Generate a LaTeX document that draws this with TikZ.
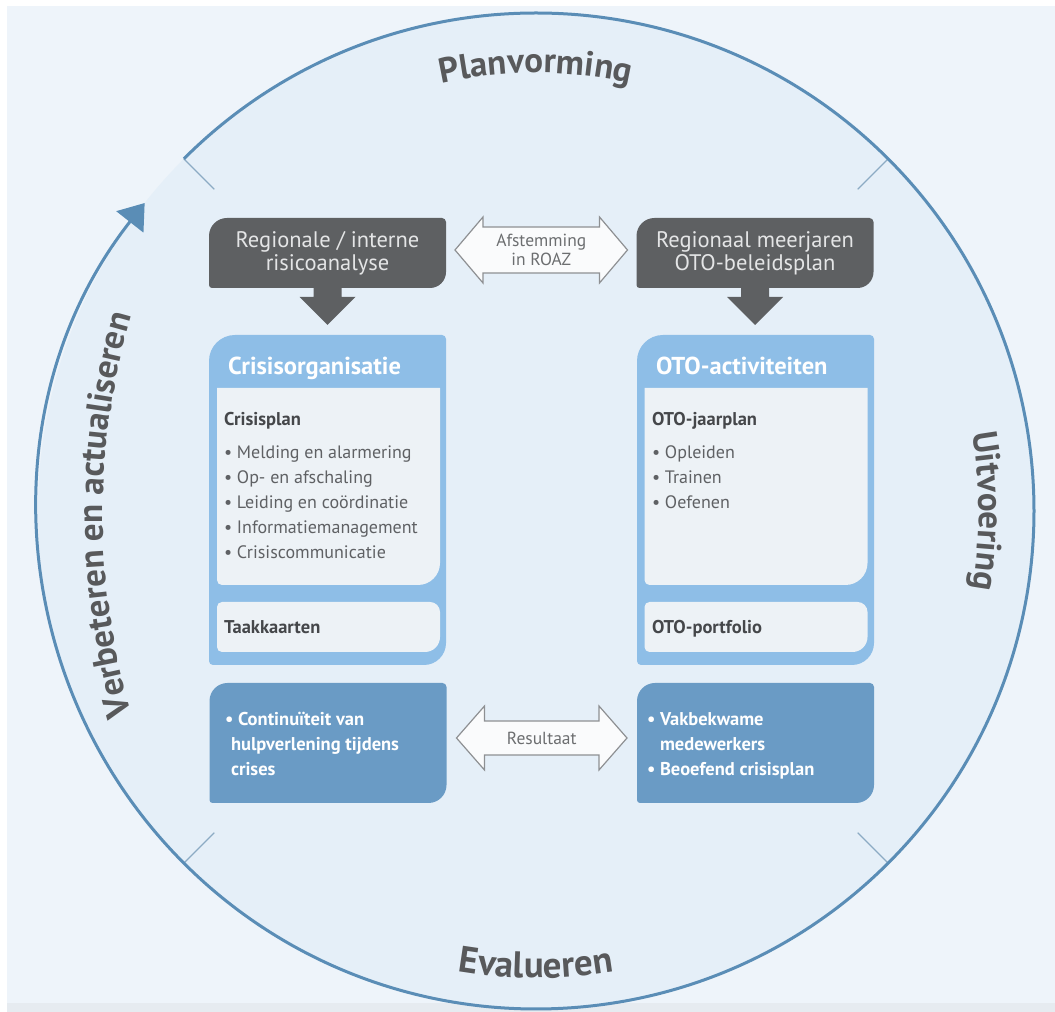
\documentclass[tikz,border=0pt]{standalone}
\usepackage{fontspec}
\setmainfont{PT Sans}
\usetikzlibrary{calc,arrows.meta,decorations.text}

\definecolor{pagebg}{HTML}{EEF4FA}
\definecolor{bandc}{HTML}{E6EBF0}
\definecolor{ringfill}{HTML}{E5EFF8}
\definecolor{ringline}{HTML}{5A8DB6}
\definecolor{tickc}{HTML}{8CABC4}
\definecolor{darkc}{HTML}{5E6062}
\definecolor{darktext}{HTML}{E4E5E6}
\definecolor{panelc}{HTML}{8EBEE7}
\definecolor{innerc}{HTML}{EDF2F6}
\definecolor{resc}{HTML}{6A9BC5}
\definecolor{headc}{HTML}{45474A}
\definecolor{bulletc}{HTML}{5F6164}
\definecolor{arrowline}{HTML}{8E9093}
\definecolor{arrowfill}{HTML}{FAFBFC}
\definecolor{labelc}{HTML}{58595B}
\definecolor{arrowtext}{HTML}{6C6E70}

\pgfdeclarelayer{ground}
\pgfdeclarelayer{panels}
\pgfsetlayers{ground,panels,main}

% box filled behind a node, with its own radius for each corner
% #1 node, #2 top left, #3 top right, #4 bottom right, #5 bottom left, #6 colour
\newcommand{\cornerbox}[6]{%
  \fill[#6] ([yshift=#5]#1.south west) -- ([yshift=-#2]#1.north west)
    arc[start angle=180,end angle=90,radius=#2]
    -- ([xshift=-#3]#1.north east) arc[start angle=90,end angle=0,radius=#3]
    -- ([yshift=#4]#1.south east) arc[start angle=0,end angle=-90,radius=#4]
    -- ([xshift=#5]#1.south west) arc[start angle=270,end angle=180,radius=#5]
    -- cycle;}

% outlined double block arrow between two tips
% #1 left tip, #2 right tip, #3 head length, #4 head half height, #5 shaft half height
\newcommand{\dblarrow}[5]{%
  \draw[blockarrow] (#1) -- ++(#3,#4) -- ++(0,{#5-#4}) -- ($(#2)+(-#3,#5)$)
    -- ++(0,{#4-#5}) -- (#2) -- ++(-#3,-#4) -- ++(0,{#4-#5})
    -- ($(#1)+(#3,-#5)$) -- ++(0,{#5-#4}) -- cycle;}

\newcommand{\ringfont}{\fontsize{35}{37}\selectfont\bfseries}
\newcommand{\ringfontwide}{\fontsize{37}{39}\selectfont\bfseries}

\begin{document}
\begin{tikzpicture}[x=1pt,y=1pt,
  boxbase/.style={inner sep=0pt,outer sep=0pt},
  darkbox/.style={boxbase,minimum width=237pt,minimum height=70pt,align=center,
    text=darktext,font=\fontsize{22.5}{23}\selectfont},
  panelnode/.style={boxbase,minimum width=237pt,minimum height=330pt},
  innernode/.style={boxbase,minimum width=223pt,minimum height=197pt},
  resnode/.style={boxbase,minimum width=237pt,minimum height=120pt},
  paneltitle/.style={boxbase,anchor=base west,text=white,font=\fontsize{24.5}{26}\selectfont\bfseries},
  headtext/.style={boxbase,anchor=base west,text=headc,font=\fontsize{18.5}{20}\selectfont\bfseries},
  bullettext/.style={boxbase,anchor=base west,align=left,text=bulletc,font=\fontsize{18}{25}\selectfont},
  restext/.style={boxbase,anchor=base west,align=left,text=white,font=\fontsize{18.5}{25}\selectfont\bfseries},
  arrowlabel/.style={boxbase,align=center,text=arrowtext,font=\fontsize{17.5}{19}\selectfont},
  blockarrow/.style={draw=arrowline,line width=1.2pt,fill=arrowfill,line join=miter},
  downarrow/.style={fill=darkc},
  ring/.style={draw=ringline,line width=3pt},
  tick/.style={draw=tickc,line width=1.3pt},
  ringlabel/.style={decorate,decoration={text along path,text align=center,text color=labelc}}
]
\useasboundingbox (0,0) rectangle (1055,1012);

\begin{pgfonlayer}{ground}
  \fill[white] (0,0) rectangle (1055,1012);
  \fill[pagebg] (7,9) rectangle (1055,1006);
  \fill[bandc] (7,0) rectangle (1055,9);
  \coordinate (C) at (536,501);
  \fill[ringfill] (C) circle[radius=498];
  % phase boundaries
  \foreach \a in {135,45,-45,-135}
    \draw[tick] ($(C)+(\a:498)$) -- ($(C)+(\a:455)$);
  % the cycle, closing on itself with an arrow
  \draw[ring,-{Triangle[length=24pt,width=34pt]}]
    ($(C)+(135:498)$) arc[start angle=135,end angle=-218.2,radius=498];
  % phase names along the ring
  \path[ringlabel,decoration={text={|\ringfont|Planvorming}}]
    ($(C)+(160:438)$) arc[start angle=160,end angle=20,radius=438];
  \path[ringlabel,decoration={text={|\ringfont|Uitvoering}}]
    ($(C)+(25:443)$) arc[start angle=25,end angle=-25,radius=443];
  \path[ringlabel,decoration={text={|\ringfontwide|Evalueren}}]
    ($(C)+(-118:467)$) arc[start angle=-118,end angle=-62,radius=467];
  % flatter curve for the long label on the left
  \coordinate (L) at (818,497);
  \path[ringlabel,decoration={text={|\ringfont|Verbeteren en actualiseren}}]
    ($(L)+(205:715)$) arc[start angle=205,end angle=155,radius=715];
\end{pgfonlayer}

% top row
\node[darkbox] (risk) at (327.5,759) {Regionale / interne\\risicoanalyse};
\node[darkbox] (plan) at (755,759) {Regionaal meerjaren\\OTO-beleidsplan};

% panels
\node[panelnode] (crisis) at (327.5,512) {};
\node[panelnode] (oto) at (755.5,512) {};
\node[paneltitle] (crisistitle) at (228,637) {Crisisorganisatie};
\node[paneltitle] (ototitle) at (656,637) {OTO-activiteiten};

\node[innernode] (cplan) at (328.5,525.5) {};
\node[innernode,minimum height=50pt] (ctaak) at (328.5,385) {};
\node[innernode] (oplan) at (756,525.5) {};
\node[innernode,minimum height=50pt] (otaak) at (756,385) {};

% multi-line texts are placed by the baseline of their last line
\node[headtext] (cplanhead) at (224,586) {Crisisplan};
\node[bullettext] (cplanlist) at (224,453) {\textbullet\ Melding en alarmering\\
  \textbullet\ Op- en afschaling\\
  \textbullet\ Leiding en coördinatie\\
  \textbullet\ Informatiemanagement\\
  \textbullet\ Crisiscommunicatie};
\node[headtext] (ctaakhead) at (224,378) {Taakkaarten};

\node[headtext] (oplanhead) at (652,586) {OTO-jaarplan};
\node[bullettext] (oplanlist) at (652,503) {\textbullet\ Opleiden\\
  \textbullet\ Trainen\\
  \textbullet\ Oefenen};
\node[headtext] (otaakhead) at (652,378) {OTO-portfolio};

% results
\node[resnode] (cres) at (328,269) {};
\node[resnode] (ores) at (755.5,269) {};
\node[restext] (crestext) at (225,236) {\textbullet\ Continuïteit van\\
  \hspace{6pt}hulpverlening tijdens\\
  \hspace{6pt}crises};
\node[restext] (orestext) at (647,236) {\textbullet\ Vakbekwame\\
  \phantom{\textbullet\ }medewerkers\\
  \textbullet\ Beoefend crisisplan};

\begin{pgfonlayer}{panels}
  \cornerbox{risk}{18pt}{4pt}{16pt}{3pt}{darkc}
  \cornerbox{plan}{18pt}{4pt}{16pt}{3pt}{darkc}
  \cornerbox{crisis}{26pt}{4pt}{22pt}{4pt}{panelc}
  \cornerbox{oto}{26pt}{4pt}{22pt}{4pt}{panelc}
  \cornerbox{cplan}{0.01pt}{0.01pt}{22pt}{5pt}{innerc}
  \cornerbox{oplan}{0.01pt}{0.01pt}{22pt}{5pt}{innerc}
  \cornerbox{ctaak}{5pt}{10pt}{15pt}{5pt}{innerc}
  \cornerbox{otaak}{5pt}{10pt}{15pt}{5pt}{innerc}
  \cornerbox{cres}{18pt}{4pt}{18pt}{3pt}{resc}
  \cornerbox{ores}{18pt}{4pt}{18pt}{3pt}{resc}
\end{pgfonlayer}

% downward arrows into the panels
\fill[downarrow] ([xshift=-14pt]risk.south) -- ++(0,-9) -- ++(-14,0) -- ++(28,-28)
  -- ++(28,28) -- ++(-14,0) -- ++(0,9) -- cycle;
\fill[downarrow] ([xshift=-14pt]plan.south) -- ++(0,-9) -- ++(-14,0) -- ++(28,-28)
  -- ++(28,28) -- ++(-14,0) -- ++(0,9) -- cycle;

% two-way arrows
\coordinate (aL) at ([xshift=9pt,yshift=3pt]risk.east);
\coordinate (aR) at ([xshift=-9pt,yshift=3pt]plan.west);
\dblarrow{aL}{aR}{28}{33}{23}
\node[arrowlabel] (afst) at ($(aL)!0.5!(aR)$) {Afstemming\\in ROAZ};

\coordinate (bL) at ([xshift=10pt,yshift=5pt]cres.east);
\coordinate (bR) at ([xshift=-10pt,yshift=5pt]ores.west);
\dblarrow{bL}{bR}{28}{32}{17}
\node[arrowlabel] (result) at ($(bL)!0.5!(bR)$) {Resultaat};
\end{tikzpicture}
\end{document}
